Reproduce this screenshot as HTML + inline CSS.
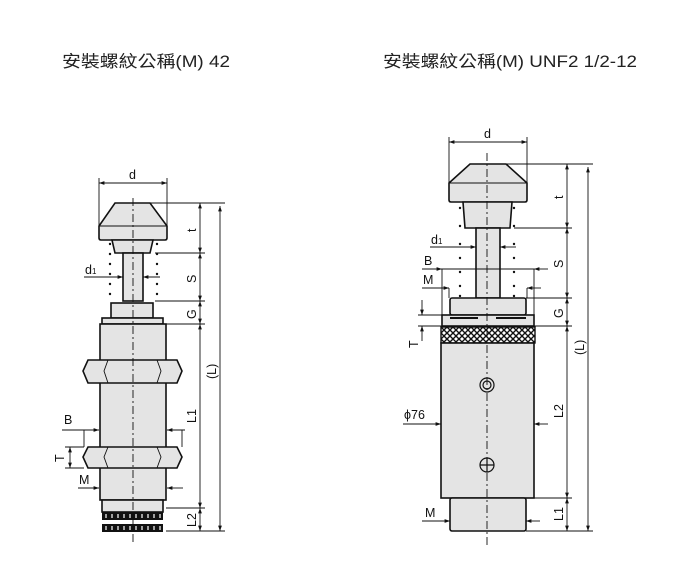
<!DOCTYPE html>
<html><head><meta charset="utf-8"><style>
html,body{margin:0;padding:0;background:#fff;}
svg{display:block;}
.t{font-family:"Liberation Sans","Noto Sans CJK TC",sans-serif;font-size:16.5px;fill:#222;}
.l{font-family:"Liberation Sans",sans-serif;font-size:12.5px;fill:#111;}
.p{fill:#e4e4e4;stroke:#111;stroke-width:1.6;}
.ln{stroke:#111;stroke-width:0.9;fill:none;}
.c{stroke:#111;stroke-width:0.9;stroke-dasharray:8,3,2,3;fill:none;}
</style></head><body>
<svg width="685" height="563" viewBox="0 0 685 563" xmlns="http://www.w3.org/2000/svg">
<defs>
<marker id="a" viewBox="0 0 10 10" refX="10" refY="5" markerWidth="6" markerHeight="6" orient="auto-start-reverse"><path d="M0,1.5L10,5L0,8.5z" fill="#111"/></marker>
<pattern id="k" width="6" height="6" patternUnits="userSpaceOnUse"><rect width="6" height="6" fill="#fff"/><path d="M0,0L6,6M6,0L0,6" stroke="#111" stroke-width="1.4"/></pattern>
</defs>
<text class="t" x="62" y="67" textLength="168" lengthAdjust="spacingAndGlyphs">安裝螺紋公稱(M) 42</text>
<text class="t" x="383" y="67" textLength="254" lengthAdjust="spacingAndGlyphs">安裝螺紋公稱(M) UNF2 1/2-12</text>

<!-- LEFT -->
<g>
<path class="p" d="M115,203H150L167,226V238Q167,240 165,240H101Q99,240 99,238V226Z"/>
<line class="ln" x1="99" y1="226" x2="167" y2="226"/>
<path class="p" d="M112,240H153L150,253H115Z"/>
<rect class="p" x="123" y="253" width="20" height="48"/>
<rect class="p" x="111" y="303" width="42" height="15"/>
<rect class="p" x="102" y="318" width="61" height="6"/>
<rect class="p" x="100" y="324" width="66" height="176"/>
<path class="p" d="M88,360H177L182,371L177,383H88L83,371Z"/>
<path class="ln" d="M108,360L104,371L108,383M157,360L161,371L157,383"/>
<path class="p" d="M88,447H177L182,457L177,468H88L83,457Z"/>
<path class="ln" d="M108,447L104,457L108,468M157,447L161,457L157,468"/>
<rect class="p" x="102" y="500" width="61" height="12"/>
<rect x="102" y="512" width="61" height="8" fill="#111"/>
<rect x="102" y="524" width="61" height="8" fill="#111"/>
<g stroke="#fff" stroke-width="1.2">
<path d="M106,514v4M112,514v4M118,514v4M124,514v4M130,514v4M136,514v4M142,514v4M148,514v4M154,514v4M160,514v4"/>
<path d="M106,526v4M112,526v4M118,526v4M124,526v4M130,526v4M136,526v4M142,526v4M148,526v4M154,526v4M160,526v4"/>
</g>
<g fill="#111">
<circle cx="110" cy="244" r="1.2"/><circle cx="110" cy="254" r="1.2"/><circle cx="110" cy="264" r="1.2"/><circle cx="110" cy="274" r="1.2"/><circle cx="110" cy="284" r="1.2"/><circle cx="110" cy="294" r="1.2"/>
<circle cx="157" cy="244" r="1.2"/><circle cx="157" cy="254" r="1.2"/><circle cx="157" cy="264" r="1.2"/><circle cx="157" cy="274" r="1.2"/><circle cx="157" cy="284" r="1.2"/><circle cx="157" cy="294" r="1.2"/>
</g>
<line class="c" x1="133" y1="198" x2="133" y2="545"/>
<line class="ln" x1="99" y1="178" x2="99" y2="226"/><line class="ln" x1="167" y1="178" x2="167" y2="226"/>
<line class="ln" x1="99" y1="183" x2="167" y2="183" marker-start="url(#a)" marker-end="url(#a)"/>
<text class="l" x="129" y="179">d</text>
<line class="ln" x1="84" y1="277" x2="123" y2="277" marker-end="url(#a)"/>
<line class="ln" x1="160" y1="277" x2="143" y2="277" marker-end="url(#a)"/>
<text class="l" x="85" y="274">d<tspan font-size="8">1</tspan></text>
<line class="ln" x1="62" y1="430" x2="99" y2="430" marker-end="url(#a)"/>
<line class="ln" x1="185" y1="430" x2="167" y2="430" marker-end="url(#a)"/>
<line class="ln" x1="84" y1="430" x2="84" y2="447"/><line class="ln" x1="182" y1="430" x2="182" y2="447"/>
<text class="l" x="64" y="424">B</text>
<line class="ln" x1="65" y1="447" x2="84" y2="447"/><line class="ln" x1="65" y1="468" x2="84" y2="468"/>
<line class="ln" x1="70" y1="447" x2="70" y2="468" marker-start="url(#a)" marker-end="url(#a)"/>
<text class="l" transform="translate(64,462) rotate(-90)">T</text>
<line class="ln" x1="78" y1="488" x2="99" y2="488" marker-end="url(#a)"/>
<line class="ln" x1="183" y1="488" x2="167" y2="488" marker-end="url(#a)"/>
<text class="l" x="79" y="484">M</text>
<g class="ln">
<line x1="150" y1="203" x2="225" y2="203"/>
<line x1="155" y1="253" x2="205" y2="253"/>
<line x1="155" y1="301" x2="205" y2="301"/>
<line x1="166" y1="324" x2="205" y2="324"/>
<line x1="166" y1="508" x2="205" y2="508"/>
<line x1="166" y1="531" x2="225" y2="531"/>
</g>
<line class="ln" x1="200" y1="203" x2="200" y2="253" marker-start="url(#a)" marker-end="url(#a)"/>
<line class="ln" x1="200" y1="253" x2="200" y2="301" marker-start="url(#a)" marker-end="url(#a)"/>
<line class="ln" x1="200" y1="301" x2="200" y2="324" marker-start="url(#a)" marker-end="url(#a)"/>
<line class="ln" x1="200" y1="324" x2="200" y2="508" marker-start="url(#a)" marker-end="url(#a)"/>
<line class="ln" x1="200" y1="508" x2="200" y2="531" marker-start="url(#a)" marker-end="url(#a)"/>
<line class="ln" x1="220" y1="206" x2="220" y2="531" marker-start="url(#a)" marker-end="url(#a)"/>
<text class="l" transform="translate(196,232) rotate(-90)">t</text>
<text class="l" transform="translate(196,283) rotate(-90)">S</text>
<text class="l" transform="translate(196,319) rotate(-90)">G</text>
<text class="l" transform="translate(196,423) rotate(-90)">L1</text>
<text class="l" transform="translate(196,527) rotate(-90)">L2</text>
<text class="l" transform="translate(216,379) rotate(-90)">(L)</text>
</g>

<!-- RIGHT -->
<g>
<path class="p" d="M470,164H506L527,183V200Q527,202 525,202H451Q449,202 449,200V183Z"/>
<line class="ln" x1="449" y1="183" x2="527" y2="183"/>
<path class="p" d="M463,202H512L510,228H465Z"/>
<rect class="p" x="476" y="228" width="24" height="70"/>
<rect class="p" x="450" y="298" width="76" height="17" rx="2"/>
<rect class="p" x="442" y="315" width="92" height="11"/>
<path d="M450,318H478M496,318H526" stroke="#111" stroke-width="2"/>
<rect x="441" y="327" width="94" height="16" fill="url(#k)" stroke="#111" stroke-width="1.4"/>
<rect class="p" x="441" y="343" width="93" height="155"/>
<circle cx="487" cy="385" r="7" fill="none" stroke="#111" stroke-width="1.2"/>
<circle cx="487" cy="385" r="4" fill="none" stroke="#111" stroke-width="1.2"/>
<circle cx="487" cy="465" r="7" fill="none" stroke="#111" stroke-width="1.2"/>
<path d="M480,465H494M487,458V472" stroke="#111" stroke-width="1.2"/>
<rect class="p" x="450" y="498" width="76" height="33" rx="2"/>
<g fill="#111">
<circle cx="460" cy="208" r="1.2"/><circle cx="460" cy="226" r="1.2"/><circle cx="460" cy="244" r="1.2"/><circle cx="460" cy="258" r="1.2"/><circle cx="460" cy="272" r="1.2"/><circle cx="460" cy="286" r="1.2"/><circle cx="460" cy="296" r="1.2"/>
<circle cx="514" cy="208" r="1.2"/><circle cx="514" cy="226" r="1.2"/><circle cx="514" cy="244" r="1.2"/><circle cx="514" cy="258" r="1.2"/><circle cx="514" cy="272" r="1.2"/><circle cx="514" cy="286" r="1.2"/><circle cx="514" cy="296" r="1.2"/>
</g>
<line class="c" x1="487" y1="153" x2="487" y2="545"/>
<line class="ln" x1="449" y1="137" x2="449" y2="183"/><line class="ln" x1="527" y1="137" x2="527" y2="183"/>
<line class="ln" x1="449" y1="142" x2="527" y2="142" marker-start="url(#a)" marker-end="url(#a)"/>
<text class="l" x="484" y="138">d</text>
<line class="ln" x1="430" y1="247" x2="476" y2="247" marker-end="url(#a)"/>
<line class="ln" x1="516" y1="247" x2="500" y2="247" marker-end="url(#a)"/>
<text class="l" x="431" y="244">d<tspan font-size="8">1</tspan></text>
<line class="ln" x1="422" y1="269" x2="442" y2="269" marker-end="url(#a)"/>
<line class="ln" x1="548" y1="269" x2="534" y2="269" marker-end="url(#a)"/>
<line class="ln" x1="442" y1="269" x2="534" y2="269"/>
<line class="ln" x1="442" y1="269" x2="442" y2="315"/><line class="ln" x1="534" y1="269" x2="534" y2="315"/>
<text class="l" x="424" y="265">B</text>
<line class="ln" x1="422" y1="288" x2="449" y2="288" marker-end="url(#a)"/>
<line class="ln" x1="541" y1="288" x2="527" y2="288" marker-end="url(#a)"/>
<line class="ln" x1="449" y1="288" x2="449" y2="298"/><line class="ln" x1="527" y1="288" x2="527" y2="298"/>
<text class="l" x="423" y="284">M</text>
<line class="ln" x1="418" y1="315" x2="442" y2="315"/><line class="ln" x1="418" y1="326" x2="442" y2="326"/>
<line class="ln" x1="422" y1="300" x2="422" y2="315" marker-end="url(#a)"/>
<line class="ln" x1="422" y1="341" x2="422" y2="326" marker-end="url(#a)"/>
<text class="l" transform="translate(418,348) rotate(-90)">T</text>
<line class="ln" x1="403" y1="424" x2="441" y2="424" marker-end="url(#a)"/>
<line class="ln" x1="548" y1="424" x2="534" y2="424" marker-end="url(#a)"/>
<text class="l" x="404" y="419" font-size="13">ϕ76</text>
<line class="ln" x1="422" y1="521" x2="450" y2="521" marker-end="url(#a)"/>
<line class="ln" x1="540" y1="521" x2="526" y2="521" marker-end="url(#a)"/>
<text class="l" x="425" y="517">M</text>
<g class="ln">
<line x1="506" y1="164" x2="593" y2="164"/>
<line x1="514" y1="228" x2="572" y2="228"/>
<line x1="526" y1="298" x2="572" y2="298"/>
<line x1="534" y1="326" x2="572" y2="326"/>
<line x1="534" y1="498" x2="572" y2="498"/>
<line x1="526" y1="531" x2="593" y2="531"/>
</g>
<line class="ln" x1="567" y1="164" x2="567" y2="228" marker-start="url(#a)" marker-end="url(#a)"/>
<line class="ln" x1="567" y1="228" x2="567" y2="298" marker-start="url(#a)" marker-end="url(#a)"/>
<line class="ln" x1="567" y1="298" x2="567" y2="326" marker-start="url(#a)" marker-end="url(#a)"/>
<line class="ln" x1="567" y1="326" x2="567" y2="498" marker-start="url(#a)" marker-end="url(#a)"/>
<line class="ln" x1="567" y1="498" x2="567" y2="531" marker-start="url(#a)" marker-end="url(#a)"/>
<line class="ln" x1="588" y1="167" x2="588" y2="531" marker-start="url(#a)" marker-end="url(#a)"/>
<text class="l" transform="translate(563,199) rotate(-90)">t</text>
<text class="l" transform="translate(563,268) rotate(-90)">S</text>
<text class="l" transform="translate(563,318) rotate(-90)">G</text>
<text class="l" transform="translate(563,418) rotate(-90)">L2</text>
<text class="l" transform="translate(563,521) rotate(-90)">L1</text>
<text class="l" transform="translate(584,355) rotate(-90)">(L)</text>
</g>
</svg>
</body></html>
